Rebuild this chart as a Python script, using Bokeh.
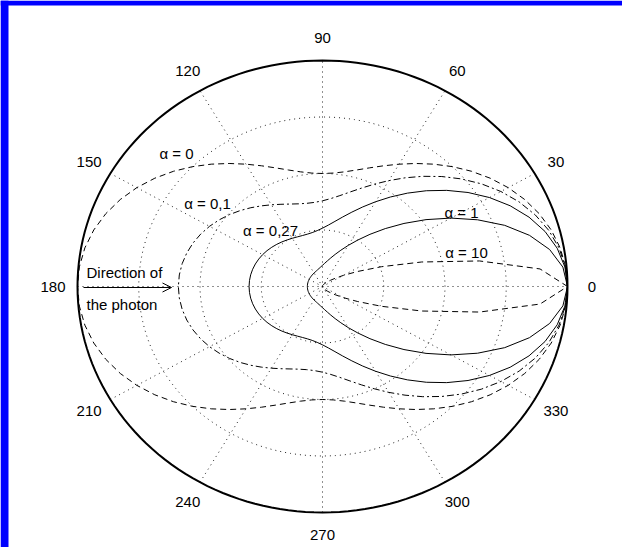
import math
from bokeh.plotting import figure
from bokeh.models import Range1d, Label, Arrow, OpenHead
from bokeh.embed import file_html
from bokeh.resources import INLINE

# ---------------- data ----------------
THETA_DEG = [0, 5, 10, 15, 20, 25, 30, 35, 40, 45, 50, 55, 60, 65, 70, 75, 80, 85, 90,
             95, 100, 105, 110, 115, 120, 125, 130, 135, 140, 145, 150, 155, 160, 165, 170, 175, 180]

R_ALPHA_0 = [1.0, 0.9962, 0.9849, 0.9665, 0.9415, 0.9107, 0.875, 0.8355, 0.7934, 0.75, 0.7066,
             0.6645, 0.625, 0.5893, 0.5585, 0.5335, 0.5151, 0.5038, 0.5, 0.5038, 0.5151, 0.5335,
             0.5585, 0.5893, 0.625, 0.6645, 0.7066, 0.75, 0.7934, 0.8355, 0.875, 0.9107, 0.9415,
             0.9665, 0.9849, 0.9962, 1.0]
R_ALPHA_01 = [1.0, 0.9951, 0.9805, 0.9567, 0.9247, 0.8856, 0.8408, 0.7919, 0.7405, 0.6882, 0.6365,
              0.5870, 0.5409, 0.4993, 0.4630, 0.4326, 0.4084, 0.3906, 0.3791, 0.3736, 0.3736, 0.3787,
              0.3882, 0.4014, 0.4174, 0.4355, 0.4551, 0.4752, 0.4952, 0.5145, 0.5325, 0.5486, 0.5624,
              0.5735, 0.5817, 0.5867, 0.5884]
R_ALPHA_027 = [1.0, 0.9931, 0.9729, 0.9404, 0.8971, 0.8452, 0.7871, 0.7252, 0.6618, 0.5992, 0.5393,
               0.4835, 0.4330, 0.3884, 0.3502, 0.3183, 0.2926, 0.2727, 0.2581, 0.2482, 0.2422, 0.2397,
               0.2399, 0.2423, 0.2464, 0.2516, 0.2576, 0.2639, 0.2702, 0.2764, 0.2821, 0.2872, 0.2916,
               0.2951, 0.2977, 0.2992, 0.2997]
R_ALPHA_1 = [1.0, 0.9849, 0.9415, 0.8746, 0.7913, 0.6984, 0.6055, 0.5158, 0.4341, 0.3624, 0.3014,
             0.2509, 0.2099, 0.1771, 0.1512, 0.1310, 0.1152, 0.1031, 0.0938, 0.0866, 0.0810, 0.0767,
             0.0734, 0.0708, 0.0688, 0.0672, 0.0659, 0.0649, 0.0641, 0.0635, 0.0630, 0.0626, 0.0623,
             0.0620, 0.0619, 0.0618, 0.0617]
R_ALPHA_10 = [1.0, 0.8913, 0.6509, 0.4190, 0.2561, 0.1565, 0.0983, 0.0640, 0.0433, 0.0304, 0.0220,
              0.0164, 0.0125, 0.0098, 0.0078, 0.0064, 0.0053, 0.0044, 0.0038, 0.0033, 0.0029, 0.0026,
              0.0023, 0.0021, 0.0019, 0.0017, 0.0016, 0.0015, 0.0014, 0.0013, 0.0013, 0.0012, 0.0012,
              0.0012, 0.0012, 0.0011, 0.0011]

CURVE_LABELS = ["α = 0", "α = 0,1", "α = 0,27", "α = 1", "α = 10"]
GRID_RADII = [0.25, 0.5, 0.75]
SPOKE_ANGLES = [0, 30, 60, 90, 120, 150]
TICK_ANGLES = [0, 30, 60, 90, 120, 150, 180, 210, 240, 270, 300, 330]
TICK_LABELS = ["0", "30", "60", "90", "120", "150", "180", "210", "240", "270", "300", "330"]
NOTE_LINES = ["Direction of", "the photon"]

# ---------------- layout (pixels) ----------------
W, H = 622, 547
CX, CY = 322.0, 286.0
RX, RY = 245.0, 226.0
FONT = "Liberation Sans"
FS = "15px"


def dx(px):
    return (px - CX) / RX


def dy(py):
    return (CY - py) / RY


p = figure(width=W, height=H, output_backend="svg", toolbar_location=None,
           x_range=Range1d(dx(0), dx(W)), y_range=Range1d(dy(H), dy(0)),
           min_border=0, background_fill_color="white", border_fill_color="white")
p.axis.visible = False
p.grid.visible = False
p.outline_line_color = None

# blue frame strips of the original picture
p.quad(left=dx(0), right=dx(8), top=dy(0), bottom=dy(H), fill_color="#0000ff", line_color=None)
p.quad(left=dx(0), right=dx(W), top=dy(0), bottom=dy(5), fill_color="#0000ff", line_color=None)

# polar grid
circ = [math.radians(a) for a in range(0, 361, 2)]
for gr in GRID_RADII:
    p.line([gr * math.cos(t) for t in circ], [gr * math.sin(t) for t in circ],
           line_color="#222222", line_width=1, line_dash="1 4")
for a in SPOKE_ANGLES:
    t = math.radians(a)
    p.line([-math.cos(t), math.cos(t)], [-math.sin(t), math.sin(t)],
           line_color="#222222", line_width=1, line_dash="1 4")
p.line([math.cos(t) for t in circ], [math.sin(t) for t in circ],
       line_color="black", line_width=2)

for a, lab in zip(TICK_ANGLES, TICK_LABELS):
    t = math.radians(a)
    p.add_layout(Label(x=1.1 * math.cos(t), y=1.1 * math.sin(t), text=lab,
                       text_align="center", text_baseline="middle",
                       text_font=FONT, text_font_size=FS, text_color="black"))


def polar_xy(rs):
    th = THETA_DEG + [360 - t for t in THETA_DEG[-2::-1]]
    rr = rs + rs[-2::-1]
    xs = [r * math.cos(math.radians(t)) for r, t in zip(rr, th)]
    ys = [r * math.sin(math.radians(t)) for r, t in zip(rr, th)]
    return xs, ys


curves = [
    (R_ALPHA_0, "6 4"),
    (R_ALPHA_01, "7 3 2 3"),
    (R_ALPHA_027, "solid"),
    (R_ALPHA_1, "solid"),
    (R_ALPHA_10, "6 4"),
]
for rs, dash in curves:
    xs, ys = polar_xy(rs)
    p.line(xs, ys, line_color="black", line_width=1, line_dash=dash)

# curve labels (pixel centres)
label_px = [(176, 153), (207, 203), (270, 230), (461, 212), (466, 252)]
for (lx, ly), txt in zip(label_px, CURVE_LABELS):
    p.add_layout(Label(x=dx(lx), y=dy(ly), text=txt, text_align="center",
                       text_baseline="middle", text_font=FONT, text_font_size=FS,
                       text_color="black"))

# direction of the photon
p.add_layout(Label(x=dx(86), y=dy(272), text=NOTE_LINES[0], text_align="left",
                   text_baseline="middle", text_font=FONT, text_font_size=FS,
                   text_color="black"))
p.add_layout(Label(x=dx(86), y=dy(304), text=NOTE_LINES[1], text_align="left",
                   text_baseline="middle", text_font=FONT, text_font_size=FS,
                   text_color="black"))
p.add_layout(Arrow(end=OpenHead(size=9, line_width=1, line_color="black"),
                   x_start=dx(83), y_start=dy(287), x_end=dx(171), y_end=dy(287),
                   line_width=1, line_color="black"))

open("out.html", "w").write(file_html(p, INLINE))
